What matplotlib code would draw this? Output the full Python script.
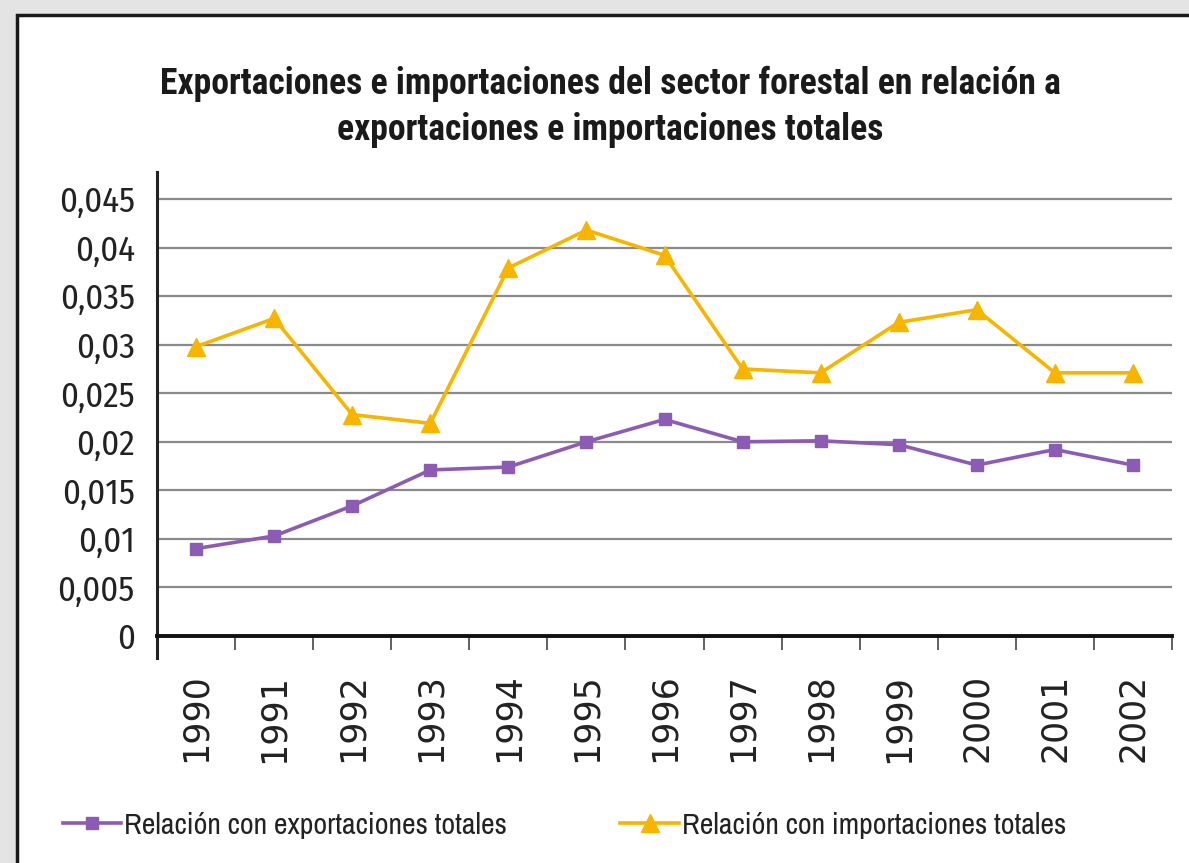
import matplotlib
matplotlib.use("Agg")
import matplotlib.pyplot as plt
from matplotlib.patches import Rectangle
from matplotlib.ticker import FuncFormatter, FixedLocator

years = ["1990", "1991", "1992", "1993", "1994", "1995", "1996",
         "1997", "1998", "1999", "2000", "2001", "2002"]
exportaciones = [0.0090, 0.0103, 0.0134, 0.0171, 0.0174, 0.0200, 0.0223,
                 0.0200, 0.0201, 0.0197, 0.0176, 0.0192, 0.0176]
importaciones = [0.0298, 0.0327, 0.0228, 0.0219, 0.0379, 0.0418, 0.0392,
                 0.0275, 0.0271, 0.0323, 0.0336, 0.0271, 0.0271]
y_ticks = [0, 0.005, 0.01, 0.015, 0.02, 0.025, 0.03, 0.035, 0.04, 0.045]
title = "Exportaciones e importaciones del sector forestal en relación a\nexportaciones e importaciones totales"
label_exp = "Relación con exportaciones totales"
label_imp = "Relación con importaciones totales"

TITLE_FONT = ["Roboto Condensed", "DejaVu Sans"]
TICK_FONT = ["Fira Sans Condensed", "DejaVu Sans"]
LEG_FONT = ["Archivo Narrow", "Roboto Condensed", "DejaVu Sans"]

PURPLE = "#8c5cb4"
YELLOW = "#f7b500"
TXT = "#222222"

fig = plt.figure(figsize=(11.89, 8.63), dpi=100)
fig.patch.set_facecolor("white")

# outer gray margin and black frame
fig.patches.append(Rectangle((0, 0), 1, 1, transform=fig.transFigure,
                             facecolor="#e4e4e4", edgecolor="none", zorder=-3))
fig.patches.append(Rectangle((17 / 1189, -0.01), 1.02, 1 - 15 / 863 + 0.01,
                             transform=fig.transFigure, facecolor="white",
                             edgecolor="#1a1a1a", linewidth=2.5, zorder=-2))

ax = fig.add_axes([157 / 1189, 1 - 658 / 863, (1172 - 157) / 1189, (658 - 172) / 863])
ax.set_facecolor("none")
x = list(range(len(years)))
ax.plot(x, exportaciones, color=PURPLE, lw=2.6, marker="s", ms=8.5,
        label=label_exp, zorder=3)
ax.plot(x, importaciones, color=YELLOW, lw=2.6, marker="^", ms=13,
        label=label_imp, zorder=3)

ax.set_xlim(-0.5, len(years) - 0.5)
ax.set_ylim(-0.002265, 0.04778)
ax.set_yticks(y_ticks)
ax.yaxis.set_major_formatter(FuncFormatter(lambda v, p: ("%g" % round(v, 3)).replace(".", ",")))
ax.tick_params(axis="y", length=0, pad=16, labelsize=25, labelcolor=TXT)
ax.yaxis.set_minor_locator(FixedLocator([0]))
ax.tick_params(axis="y", which="minor", length=12, width=1.6, color=TXT)

ax.grid(axis="y", color="#8a8a8a", lw=1.6)
ax.set_axisbelow(True)

ax.set_xticks(x)
ax.set_xticklabels(years)
ax.tick_params(axis="x", length=0, pad=27, labelsize=25, labelrotation=90, labelcolor=TXT)
ax.set_xticks([i - 0.5 for i in range(len(years) + 1)], minor=True)
ax.tick_params(axis="x", which="minor", length=10, width=1.3, color="#555555")

for lab in ax.get_yticklabels():
    lab.set_family(TICK_FONT)
for lab in ax.get_xticklabels():
    lab.set_family(["Liberation Sans", "DejaVu Sans"])

for s in ["top", "right"]:
    ax.spines[s].set_visible(False)
ax.spines["bottom"].set_position(("data", 0))
ax.spines["bottom"].set_linewidth(2.8)
ax.spines["bottom"].set_color("#111111")
ax.spines["left"].set_linewidth(2.2)
ax.spines["left"].set_color(TXT)

fig.text(610 / 1189, 1 - 107 / 863, title, ha="center", va="center",
         fontsize=25.7, fontweight="bold", family=TITLE_FONT, color="#1a1a1a",
         linespacing=1.38)

leg = fig.legend(loc="center left", bbox_to_anchor=(36 / 1189, 1 - 825 / 863),
                 ncol=2, frameon=False, handlelength=1.95, handletextpad=0.1,
                 columnspacing=3.8, prop={"family": LEG_FONT, "size": 21.5})
for t in leg.get_texts():
    t.set_color(TXT)

fig.savefig("out.png", dpi=100)
